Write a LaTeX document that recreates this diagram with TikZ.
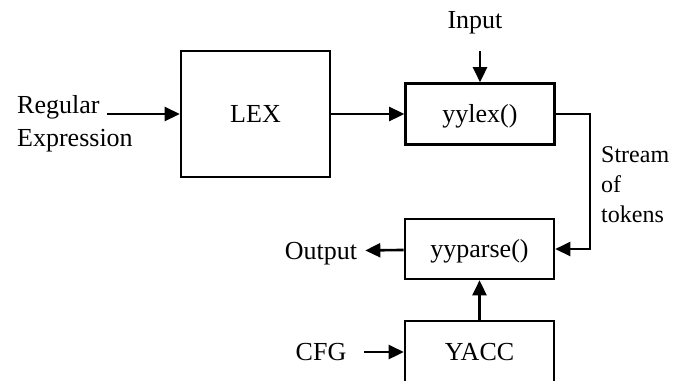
\documentclass[tikz,border=0pt]{standalone}
\usepackage{fontspec}
\setmainfont{Liberation Serif}
\usetikzlibrary{arrows.meta,positioning}

\begin{document}
\begin{tikzpicture}[
  x=1pt, y=-1pt,
  font=\fontsize{26}{33}\selectfont,
  box/.style={draw, line width=2.6pt, minimum width=149pt, minimum height=61pt, inner sep=0pt, text height=17pt, text depth=0pt},
  lbl/.style={inner xsep=8pt, inner ysep=0pt, text height=17pt, text depth=0pt},
  arrow/.style={-{Triangle[length=15pt, width=14pt]}, line width=2.6pt}
]
\useasboundingbox (0,0) rectangle (684,380);
\node[box, minimum height=126pt] (lex) at (255.5,114) {LEX};
\node[box] (yylex) at (480,114) {yylex()};
\node[box, minimum height=60pt] (yyparse) at (479.5,249) {yyparse()};
\node[box, minimum height=62pt] (yacc) at (479.5,352) {YACC};
\node[inner sep=0pt, align=left, anchor=west] (regex) at (17,124) {Regular\\Expression};
\node[lbl] (input) at (475,19.5) {Input};
\node[lbl] (output) at (321,251) {Output};
\node[lbl] (cfg) at (321,352) {CFG};
\node[inner sep=0pt, align=left, anchor=west, font=\fontsize{24}{30}\selectfont] (tokens) at (601,185) {Stream\\of\\tokens};
\coordinate (regexend) at (107,114);
\coordinate (inputend) at (480,51);
\draw[arrow] (regexend) -- (lex.west);
\draw[arrow] (lex) -- (yylex);
\draw[arrow] (inputend) -- (yylex.north);
\draw[arrow] (yylex.east) -- ++(34,0) |- (yyparse.east);
\draw[arrow] (yyparse) -- (output);
\draw[arrow] (yacc) -- (yyparse);
\draw[arrow, shorten <=10pt] (cfg) -- (yacc);
\end{tikzpicture}
\end{document}
